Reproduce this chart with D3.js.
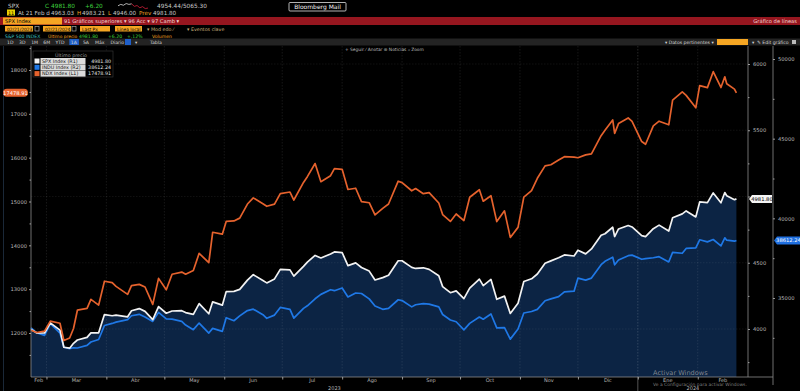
<!DOCTYPE html>
<html><head><meta charset="utf-8">
<script src="https://cdn.jsdelivr.net/npm/d3@7"></script>
<style>
html,body{margin:0;padding:0;background:#000;overflow:hidden}
svg{display:block}
text{font-family:"DejaVu Sans","Liberation Sans",sans-serif}
</style>
</head><body>
<svg id="c" width="800" height="391"></svg>
<script>
// ---------- DATA ----------
const dates = ["2023-02-21","2023-02-24","2023-02-28","2023-03-03","2023-03-08","2023-03-10","2023-03-13","2023-03-15","2023-03-17","2023-03-22","2023-03-24","2023-03-28","2023-03-31",
"2023-04-04","2023-04-06","2023-04-12","2023-04-14","2023-04-18","2023-04-21","2023-04-25","2023-04-28",
"2023-05-02","2023-05-05","2023-05-10","2023-05-12","2023-05-16","2023-05-19","2023-05-24","2023-05-26","2023-05-31",
"2023-06-02","2023-06-06","2023-06-09","2023-06-13","2023-06-16","2023-06-21","2023-06-23","2023-06-27","2023-06-30",
"2023-07-05","2023-07-07","2023-07-12","2023-07-14","2023-07-18","2023-07-21","2023-07-26","2023-07-28",
"2023-08-01","2023-08-04","2023-08-08","2023-08-11","2023-08-15","2023-08-18","2023-08-22","2023-08-25","2023-08-30",
"2023-09-01","2023-09-06","2023-09-08","2023-09-12","2023-09-15","2023-09-20","2023-09-22","2023-09-26","2023-09-29",
"2023-10-03","2023-10-06","2023-10-11","2023-10-13","2023-10-17","2023-10-20","2023-10-24","2023-10-27","2023-10-31",
"2023-11-03","2023-11-07","2023-11-10","2023-11-14","2023-11-17","2023-11-21","2023-11-24","2023-11-29",
"2023-12-01","2023-12-05","2023-12-08","2023-12-13","2023-12-15","2023-12-19","2023-12-20","2023-12-22","2023-12-27","2023-12-29",
"2024-01-03","2024-01-05","2024-01-09","2024-01-12","2024-01-17","2024-01-19","2024-01-24","2024-01-26","2024-01-31",
"2024-02-02","2024-02-06","2024-02-09","2024-02-13","2024-02-15","2024-02-16","2024-02-20","2024-02-21"];
const spx = [3997,3970,3970,4046,3992,3862,3855,3892,3917,3937,3971,3971,4109,
4100,4105,4092,4138,4154,4133,4071,4169,
4119,4136,4138,4124,4110,4192,4115,4205,4180,
4282,4284,4299,4369,4410,4366,4348,4378,4450,
4446,4399,4473,4505,4555,4536,4566,4582,
4577,4478,4499,4464,4437,4370,4388,4406,4515,
4515,4465,4457,4462,4450,4402,4320,4274,4288,
4229,4309,4376,4327,4374,4224,4248,4117,4194,
4358,4379,4415,4496,4514,4538,4559,4551,
4595,4567,4604,4707,4719,4768,4698,4755,4781,4770,
4705,4697,4757,4784,4739,4840,4869,4891,4846,
4959,4954,5027,4953,5030,5006,4976,4982];
const ndx = [12061,12011,12042,12270,12222,11830,11887,12102,12520,12561,12768,12637,13181,
13148,13063,12882,13079,13109,13049,12652,13246,
12987,13340,13389,13340,13426,13817,13604,14298,14254,
14546,14557,14621,14942,15083,14949,14891,14940,15179,
15216,15034,15435,15566,15866,15452,15589,15750,
15735,15274,15303,14999,14972,14694,14842,14942,15463,
15431,15245,15295,15178,15202,14966,14701,14546,14715,
14565,15097,15268,15007,15132,14541,14787,14180,14410,
15099,15249,15529,15812,15839,15946,16023,16012,
15998,16063,16085,16502,16624,16862,16553,16777,16906,16826,
16368,16305,16727,16832,16750,17314,17499,17421,17137,
17643,17598,17962,17601,17845,17685,17563,17479];
const indu = [33130,32817,32657,33391,32798,31910,31819,31875,31862,32030,32238,32394,33274,
33403,33485,33646,33887,33977,33809,33531,34098,
33685,33675,33531,33301,33012,33427,32800,33093,32908,
33763,33573,33877,34212,34299,33952,33727,33927,34408,
34288,33735,34348,34509,34952,35228,35520,35459,
35630,35066,35314,35281,34946,34501,34288,34347,34890,
34838,34443,34577,34646,34619,34441,33964,33619,33508,
33002,33408,33804,33670,33998,33127,33141,32418,33053,
34061,34153,34283,34828,34947,35088,35390,35430,
36246,36124,36248,37090,37305,37557,37083,37386,37656,37690,
37430,37466,37525,37593,37267,37864,37807,38109,38150,
38654,38521,38671,38273,38773,38628,38564,38612];

const leftTicks = [12000,13000,14000,15000,16000,17000,18000];
const spxTicks = [4000,4500,5000,5500,6000];
const induTicks = [35000,40000,45000,50000];
const monthNames = ["Ene","Feb","Mar","Abr","May","Jun","Jul","Ago","Sep","Oct","Nov","Dic"];
const legendNames = ["SPX Index  (R1)","INDU Index  (R2)","NDX Index  (L1)"];
const legendValues = ["4981.80","38612.24","17478.91"];
const lastLabels = ["4981.80","38612.24","17478.91"];
const sparkVals = [5,6,5.4,6.6,6,6.4,4.6,5.2,3.6,4.4,3,3.4];
const periodButtons = ["1D","3D","1M","6M","YTD","1A","5A","Máx","Diario ▾"];

// ---------- SETUP ----------
const svg = d3.select("#c");
svg.append("rect").attr("width",800).attr("height",391).attr("fill","#000");
const parse = d3.timeParse("%Y-%m-%d");
const rows = dates.map((d,i)=>({date:parse(d), spx:spx[i], ndx:ndx[i], indu:indu[i]}));

const COL = {white:"#f2f2f2", blue:"#1f78e6", orange:"#e5622d", fill:"#0c2444",
  grey:"#c8c8c8", amber:"#f5a623", green:"#3fd13f", teal:"#3cc0c0", red:"#96161f"};

const plot = {l:31, r:748, t:46, b:377};
const x = d3.scaleTime().domain([new Date(2023,1,21), new Date(2024,1,27)]).range([plot.l, plot.r]);
const yL = d3.scaleLinear().domain([12000,18000]).range([333,70]);
const yR1 = d3.scaleLinear().domain([4000,6000]).range([329,64]);
const yR2 = d3.scaleLinear().domain([35000,50000]).range([298,59]);
const last = rows[rows.length-1];

// ---------- HEADER ----------
const H = svg.append("g").attr("class","header");
function txt(g, s, xx, yy, col, size, anchor, weight){
  return g.append("text").attr("x",xx).attr("y",yy).attr("fill",col)
    .attr("font-size",size||5.6).attr("text-anchor",anchor||"start")
    .attr("font-weight",weight||"normal").text(s);
}
// row 1
txt(H,"SPX",8,8,COL.grey,5.8);
txt(H,"C",45,8,COL.green,5.8);
txt(H,"4981.80",51,8,COL.green,5.8);
txt(H,"+6.20",85,8,COL.green,5.8);
const sx = d3.scaleLinear().domain([0,sparkVals.length-1]).range([118,148]);
const sy = d3.scaleLinear().domain([2,7]).range([10,3]);
const spLine = d3.line().x((d,i)=>sx(i)).y(d=>sy(d));
H.append("path").attr("d",spLine(sparkVals.slice(0,6))).attr("fill","none").attr("stroke","#ddd").attr("stroke-width",0.8);
H.append("path").attr("d",d3.line().x((d,i)=>sx(i+5)).y(d=>sy(d))(sparkVals.slice(5))).attr("fill","none").attr("stroke","#d0203a").attr("stroke-width",0.8);
txt(H,"4954.44/5065.30",157,8,COL.grey,5.8);
H.append("rect").attr("x",289).attr("y",2.5).attr("width",57).attr("height",8.5).attr("fill","#000").attr("stroke","#e0e0e0").attr("stroke-width",0.8).attr("rx",1);
txt(H,"Bloomberg Mail",317.5,9,"#f0f0f0",6,"middle").attr("font-family","DejaVu Sans Mono,monospace");
// row 2
H.append("rect").attr("x",7).attr("y",9.5).attr("width",8).attr("height",6).attr("fill","#e8d000");
txt(H,"11",11,14.8,"#000",4.8,"middle");
txt(H,"At 21 Feb  d",18,15,COL.grey,5.6);
txt(H,"4963.03",51,15,COL.grey,5.6);
txt(H,"H",77,15,COL.amber,5.6);
txt(H,"4983.21",82,15,COL.grey,5.6);
txt(H,"L",108,15,COL.amber,5.6);
txt(H,"4946.00",113,15,COL.grey,5.6);
txt(H,"Prev",139,15,COL.amber,5.6);
txt(H,"4981.80",153,15,COL.grey,5.6);
// row 3 red bar
H.append("rect").attr("x",0).attr("y",17).attr("width",800).attr("height",8).attr("fill",COL.red);
H.append("rect").attr("x",3).attr("y",17.5).attr("width",59).attr("height",7).attr("fill",COL.amber);
txt(H,"SPX Index",5,23.2,"#000",5.2);
txt(H,"91 Gráficos superiores ▾   96 Acc ▾   97 Camb ▾",64,23.2,"#f3d6d6",5.2);
txt(H,"Gráfico de líneas",797,23.2,"#f3d6d6",5.2,"end");
// row 4 input boxes
const boxes = [[5,28,"02/21/2023"],[43,28,"02/21/2024"],[80,30,"Last Px"],[115,27,"Línea local"]];
boxes.forEach(b=>{
  H.append("rect").attr("x",b[0]).attr("y",26).attr("width",b[1]).attr("height",5.5).attr("fill",COL.amber);
  txt(H,b[2],b[0]+2,30.6,"#000",4.4);
});
[35,72].forEach(v=>H.append("rect").attr("x",v).attr("y",26.5).attr("width",4).attr("height",4.5).attr("fill","none").attr("stroke","#bbb").attr("stroke-width",0.6));
txt(H,"▾ Mod edo ⁄",147,30.8,"#c9b27a",4.8);
txt(H,"▾ Eventos clave",187,30.8,"#c9b27a",4.8);
// row 5
txt(H,"S&P 500 INDEX",5,37.5,COL.teal,4.6);
txt(H,"Último precio",48,37.5,COL.amber,4.4).attr("font-family","Liberation Sans, sans-serif");
txt(H,"4981.80",79,37.5,COL.green,4.6);
txt(H,"+6.20",108,37.5,COL.green,4.6);
txt(H,"+.12%",127,37.5,COL.green,4.6);
txt(H,"Volumen",152,37.5,COL.amber,4.6);
// row 6 toolbar
H.append("rect").attr("x",0).attr("y",38.5).attr("width",800).attr("height",7).attr("fill","#232323");
let bx = 7;
periodButtons.forEach((p,i)=>{
  const w = p.length*3.3+3;
  if(p==="1A") H.append("rect").attr("x",bx-1.5).attr("y",39).attr("width",w).attr("height",6).attr("fill","#1f5fc8");
  txt(H,p,bx,44,"#d8d8d8",4.6);
  bx += w+2.5;
});
H.append("rect").attr("x",125).attr("y",39).attr("width",6).attr("height",6).attr("fill","#1f5fc8");
txt(H,"▾",135,44,"#d8d8d8",4.6);
txt(H,"Tabla",150,44,"#d8d8d8",4.6);
txt(H,"▾ Datos pertinentes ▾",665,44,"#d8d8d8",4.6);
H.append("rect").attr("x",717).attr("y",39).attr("width",31).attr("height",6).attr("fill",COL.amber);
txt(H,"▾",752,44,"#d8d8d8",4.6);
txt(H,"✎ Edit gráfico",757,44,"#d8d8d8",4.6);
H.append("rect").attr("x",792).attr("y",40).attr("width",4).attr("height",4).attr("fill","#bbb");
// row 7
txt(H,"+ Seguir    ⁄ Anotar    ⊕ Noticias    ⌕ Zoom",345,50.5,"#bdbdbd",4.4);

// ---------- CHART ----------
const C = svg.append("g");
C.append("line").attr("x1",3.5).attr("x2",3.5).attr("y1",46).attr("y2",391).attr("stroke","#1a2838").attr("stroke-width",1);

// area under SPX
const area = d3.area().x(d=>x(d.date)).y0(plot.b).y1(d=>yR1(d.spx));
C.append("path").datum(rows).attr("d",area).attr("fill",COL.fill);

// month grid
const monthStarts = d3.timeMonth.range(new Date(2023,2,1), new Date(2024,2,1));
C.selectAll("line.vg").data(monthStarts).join("line").attr("class","vg")
  .attr("x1",d=>x(d)).attr("x2",d=>x(d)).attr("y1",plot.t).attr("y2",plot.b)
  .attr("stroke","#ffffff").attr("stroke-opacity",d=>d.getMonth()===0?0.22:0.13)
  .attr("stroke-width",0.7).attr("stroke-dasharray","1.5,1.5");
C.selectAll("line.ys").data(monthStarts.filter(d=>d.getMonth()===0)).join("line").attr("class","ys")
  .attr("x1",d=>x(d)).attr("x2",d=>x(d)).attr("y1",plot.b).attr("y2",391)
  .attr("stroke","#777").attr("stroke-width",0.7);
C.selectAll("line.hg").data(spxTicks).join("line").attr("class","hg")
  .attr("x1",plot.l).attr("x2",plot.r).attr("y1",d=>yR1(d)).attr("y2",d=>yR1(d))
  .attr("stroke","#ffffff").attr("stroke-opacity",0.09).attr("stroke-width",0.7).attr("stroke-dasharray","1.5,1.5");

// lines
const mk = key => d3.line().x(d=>x(d.date)).y(d=>key==="spx"?yR1(d.spx):key==="ndx"?yL(d.ndx):yR2(d.indu));
C.append("path").datum(rows).attr("d",mk("indu")).attr("fill","none").attr("stroke",COL.blue).attr("stroke-width",1.7).attr("stroke-linejoin","round");
C.append("path").datum(rows).attr("d",mk("spx")).attr("fill","none").attr("stroke",COL.white).attr("stroke-width",1.7).attr("stroke-linejoin","round");
C.append("path").datum(rows).attr("d",mk("ndx")).attr("fill","none").attr("stroke",COL.orange).attr("stroke-width",1.7).attr("stroke-linejoin","round");

// frame lines
const frame = C.append("g").attr("stroke","#8a8a8a").attr("stroke-width",0.8);
frame.append("line").attr("x1",plot.l).attr("x2",plot.l).attr("y1",plot.t).attr("y2",plot.b);
frame.append("line").attr("x1",plot.l).attr("x2",773).attr("y1",plot.b).attr("y2",plot.b);
frame.append("line").attr("x1",plot.r).attr("x2",plot.r).attr("y1",plot.t).attr("y2",plot.b);
frame.append("line").attr("x1",773).attr("x2",773).attr("y1",plot.t).attr("y2",plot.b+8);

function styleAxis(g){
  g.select(".domain").remove();
  g.selectAll(".tick line").attr("stroke","#bdbdbd").attr("stroke-width",0.8);
  g.selectAll(".tick text").attr("fill","#b8b8b8").attr("font-size",5.2)
   .attr("font-family","DejaVu Sans, sans-serif");
}
const hideNear = (scale, v) => d => Math.abs(scale(d) - scale(v)) < 7 ? "" : d3.format("d")(d);

// left axis (NDX)
const la = C.append("g").attr("transform",`translate(${plot.l},0)`)
  .call(d3.axisLeft(yL).tickValues(leftTicks).tickSize(2).tickPadding(2).tickFormat(hideNear(yL,last.ndx)));
styleAxis(la);
const lam = C.append("g").attr("transform",`translate(${plot.l},0)`)
  .call(d3.axisLeft(yL).tickValues(leftTicks.map(v=>v+500).concat([11500])).tickSize(1.5).tickFormat(""));
styleAxis(lam);
// inner right (SPX)
const ra = C.append("g").attr("transform",`translate(${plot.r},0)`)
  .call(d3.axisRight(yR1).tickValues(spxTicks).tickSize(2).tickPadding(3).tickFormat(hideNear(yR1,last.spx)));
styleAxis(ra);
const ram = C.append("g").attr("transform",`translate(${plot.r},0)`)
  .call(d3.axisRight(yR1).tickValues([3750,4250,4750,5250,5750]).tickSize(1.5).tickFormat(""));
styleAxis(ram);
// outer right (INDU)
const oa = C.append("g").attr("transform",`translate(773,0)`)
  .call(d3.axisRight(yR2).tickValues(induTicks).tickSize(2).tickPadding(3).tickFormat(hideNear(yR2,last.indu)));
styleAxis(oa);
const oam = C.append("g").attr("transform",`translate(773,0)`)
  .call(d3.axisRight(yR2).tickValues([32500,37500,42500,47500]).tickSize(1.5).tickFormat(""));
styleAxis(oam);
// bottom ticks at month boundaries
const ba = C.append("g").attr("transform",`translate(0,${plot.b})`)
  .call(d3.axisBottom(x).tickValues(monthStarts).tickSize(2.5).tickFormat(""));
styleAxis(ba);

// month labels at centre of visible part of each month
const [d0,d1] = x.domain();
const allMonths = d3.timeMonth.range(new Date(2023,1,1), new Date(2024,2,1));
C.selectAll("text.ml").data(allMonths).join("text").attr("class","ml")
  .attr("x",d=>{const a=d3.max([d,d0]), b=d3.min([d3.timeMonth.offset(d,1),d1]); return (x(a)+x(b))/2;})
  .attr("y",381.5).attr("text-anchor","middle").attr("fill","#b8b8b8").attr("font-size",5)
  .text(d=>monthNames[d.getMonth()]);
const years = [new Date(2023,0,1), new Date(2024,0,1)];
C.selectAll("text.yl").data(years).join("text").attr("class","yl")
  .attr("x",d=>{const a=d3.max([d,d0]), b=d3.min([d3.timeYear.offset(d,1),d1]); return (x(a)+x(b))/2;})
  .attr("y",390.3).attr("text-anchor","middle").attr("fill","#b8b8b8").attr("font-size",5)
  .text(d=>d.getFullYear());

// last value tags
function tag(xx, yy, w, fill, col, label, pointLeft){
  const g = C.append("g");
  const h = 8;
  if(pointLeft){
    g.append("path").attr("d",`M${xx},${yy} L${xx+3},${yy-h/2} L${xx+w},${yy-h/2} L${xx+w},${yy+h/2} L${xx+3},${yy+h/2} Z`).attr("fill",fill);
  } else {
    g.append("rect").attr("x",xx).attr("y",yy-h/2).attr("width",w).attr("height",h).attr("rx",4).attr("fill",fill);
  }
  g.append("text").attr("x",xx+w/2+(pointLeft?1.5:0)).attr("y",yy+2).attr("text-anchor","middle")
    .attr("fill",col).attr("font-size",5.2).text(label);
}
tag(749, yR1(last.spx), 23, "#f4f4f4", "#000", lastLabels[0], true);
tag(774, yR2(last.indu), 26, "#1f6fe0", "#fff", lastLabels[1], true);
tag(3, yL(last.ndx), 25, COL.orange, "#fff", lastLabels[2], false);

// legend
const L = C.append("g");
L.append("rect").attr("x",33).attr("y",51).attr("width",80).attr("height",26).attr("fill","#000").attr("stroke","#3a3a3a").attr("stroke-width",0.6);
L.append("text").attr("x",55).attr("y",56.5).attr("fill","#9a9a9a").attr("font-size",4.8).text("Último precio");
const swatch = [COL.white, COL.blue, COL.orange];
legendNames.forEach((n,i)=>{
  const yy = 58 + i*6.3;
  L.append("rect").attr("x",34.5).attr("y",yy+0.5).attr("width",5).attr("height",5).attr("fill",swatch[i]);
  L.append("rect").attr("x",40.5).attr("y",yy).attr("width",45).attr("height",6).attr("fill","#dcdcdc");
  L.append("text").attr("x",42).attr("y",yy+4.7).attr("fill","#111").attr("font-size",4.8).text(n);
  L.append("text").attr("x",111).attr("y",yy+4.7).attr("text-anchor","end").attr("fill","#e6e6e6").attr("font-size",4.8).text(legendValues[i]);
});

// Windows watermark
C.append("text").attr("x",653).attr("y",374.5).attr("fill","#a8a8a8").attr("fill-opacity",0.75).attr("font-size",6.6).text("Activar Windows");
C.append("text").attr("x",653).attr("y",385.6).attr("fill","#a8a8a8").attr("fill-opacity",0.75).attr("font-size",4.5).text("Ve a Configuración para activar Windows.");
</script>
</body></html>
